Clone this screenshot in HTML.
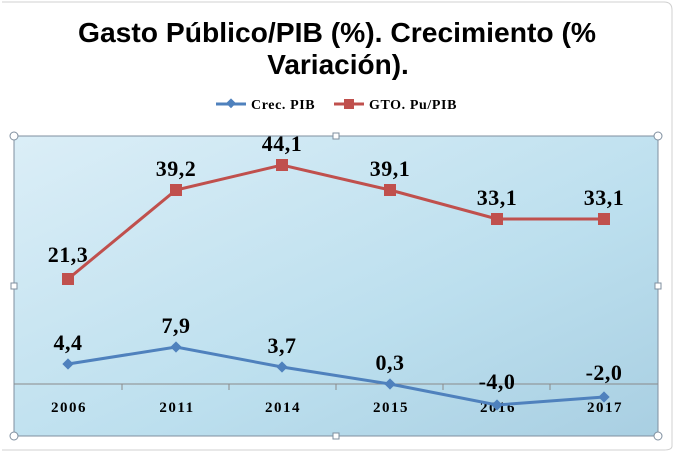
<!DOCTYPE html>
<html><head><meta charset="utf-8"><style>
body{margin:0;width:676px;height:452px;background:#fff;overflow:hidden}
</style></head><body>
<svg width="676" height="452" xmlns="http://www.w3.org/2000/svg">
<defs>
<linearGradient id="g" x1="0" y1="0" x2="1" y2="1">
<stop offset="0" stop-color="#dbeef7"/><stop offset="0.6" stop-color="#bcdfee"/><stop offset="1" stop-color="#a9cfe2"/>
</linearGradient>
</defs>
<path d="M2 2 H664 Q672 2 672 10 V446 Q672 450 664 450 H2" fill="none" stroke="#d0d0d0" stroke-width="1"/>
<text x="337" y="42" text-anchor="middle" font-family="Liberation Sans, sans-serif" font-weight="bold" font-size="28" textLength="518" lengthAdjust="spacingAndGlyphs">Gasto Público/PIB (%). Crecimiento (%</text>
<text x="338" y="74" text-anchor="middle" font-family="Liberation Sans, sans-serif" font-weight="bold" font-size="28">Variación).</text>
<g font-family="Liberation Serif, serif" font-weight="bold" font-size="14" letter-spacing="0.6">
<line x1="216" y1="104" x2="246" y2="104" stroke="#4f81bd" stroke-width="3"/>
<rect x="227" y="100" width="7" height="7" fill="#4f81bd" transform="rotate(45 231 104)"/>
<text x="251" y="109">Crec. PIB</text>
<line x1="334" y1="104" x2="364" y2="104" stroke="#c0504d" stroke-width="3"/>
<rect x="344" y="99" width="10" height="10" fill="#c0504d"/>
<text x="369" y="109">GTO. Pu/PIB</text>
</g>
<rect x="14" y="136" width="644" height="300" fill="url(#g)" stroke="#7f8f9f" stroke-width="1"/>
<line x1="14" y1="384" x2="658" y2="384" stroke="#8a8a8a" stroke-width="1"/>
<g stroke="#8a8a8a">
<line x1="122" y1="384" x2="122" y2="390"/><line x1="229" y1="384" x2="229" y2="390"/><line x1="336" y1="384" x2="336" y2="390"/><line x1="443" y1="384" x2="443" y2="390"/><line x1="550" y1="384" x2="550" y2="390"/>
</g>
<g font-family="Liberation Serif, serif" font-weight="bold" font-size="15" letter-spacing="1.5" text-anchor="middle">
<text x="69" y="412">2006</text><text x="177" y="412">2011</text><text x="283" y="412">2014</text><text x="391" y="412">2015</text><text x="498" y="412">2016</text><text x="605" y="412">2017</text>
</g>
<polyline points="68,279 176,190 282,165 390,190 497,219 604,219" fill="none" stroke="#c0504d" stroke-width="3"/>
<g fill="#c0504d">
<rect x="62" y="273" width="12" height="12"/><rect x="170" y="184" width="12" height="12"/><rect x="276" y="159" width="12" height="12"/><rect x="384" y="184" width="12" height="12"/><rect x="491" y="213" width="12" height="12"/><rect x="598" y="213" width="12" height="12"/>
</g>
<polyline points="68,364 176,347 282,367 390,384 497,405 604,397" fill="none" stroke="#4f81bd" stroke-width="3"/>
<g fill="#4f81bd">
<rect x="64" y="360" width="8" height="8" transform="rotate(45 68 364)"/>
<rect x="172" y="343" width="8" height="8" transform="rotate(45 176 347)"/>
<rect x="278" y="363" width="8" height="8" transform="rotate(45 282 367)"/>
<rect x="386" y="380" width="8" height="8" transform="rotate(45 390 384)"/>
<rect x="493" y="401" width="8" height="8" transform="rotate(45 497 405)"/>
<rect x="600" y="393" width="8" height="8" transform="rotate(45 604 397)"/>
</g>
<g font-family="Liberation Serif, serif" font-weight="bold" font-size="22" letter-spacing="0.5" text-anchor="middle" fill="#000">
<text x="68" y="262">21,3</text><text x="176" y="176">39,2</text><text x="282" y="151">44,1</text><text x="390" y="176">39,1</text><text x="497" y="205">33,1</text><text x="604" y="205">33,1</text>
<text x="68" y="350">4,4</text><text x="176" y="333">7,9</text><text x="282" y="353">3,7</text><text x="390" y="370">0,3</text><text x="497" y="389">-4,0</text><text x="604" y="380">-2,0</text>
</g>
<g fill="#fff" stroke="#7f8f9f">
<circle cx="14" cy="136" r="4"/><circle cx="658" cy="136" r="4"/><circle cx="14" cy="436" r="4"/><circle cx="658" cy="436" r="4"/>
<rect x="333" y="133" width="6" height="6"/><rect x="333" y="433" width="6" height="6"/><rect x="11" y="283" width="6" height="6"/><rect x="655" y="283" width="6" height="6"/>
</g>
</svg>
</body></html>
